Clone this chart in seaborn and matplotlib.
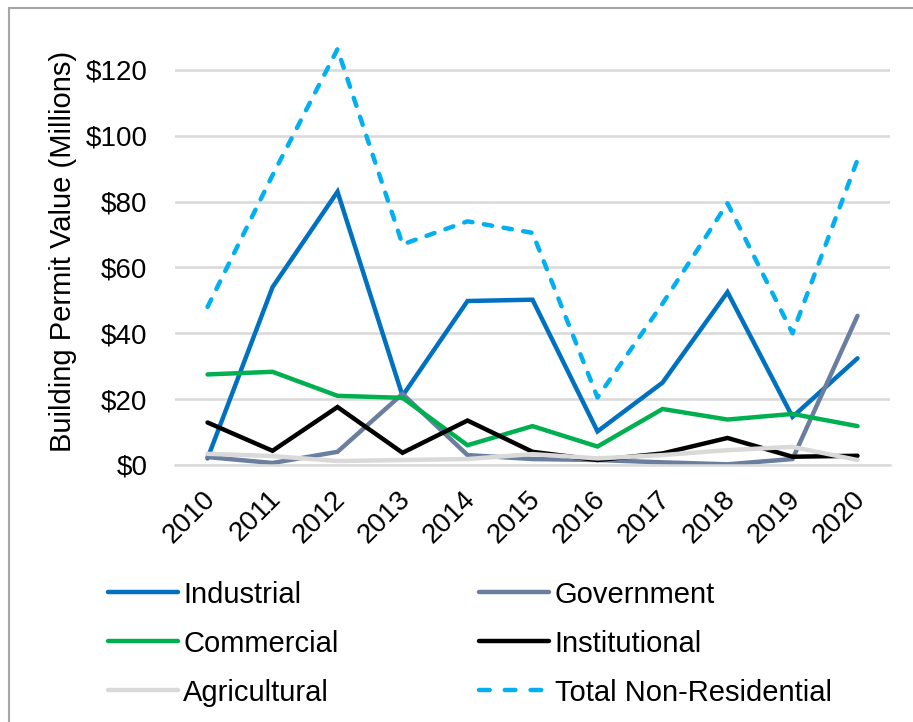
# Building permit values by non-residential category, 2010-2020
import numpy as np
import pandas as pd
import matplotlib
matplotlib.use('Agg')
import matplotlib.pyplot as plt
import matplotlib.transforms as mtransforms
from matplotlib.patches import Rectangle
import seaborn as sns

# === Data (millions of dollars) ===
years = [2010, 2011, 2012, 2013, 2014, 2015, 2016, 2017, 2018, 2019, 2020]
industrial = [2.0, 54.0, 83.0, 21.0, 49.8, 50.2, 10.2, 25.0, 52.5, 14.6, 32.4]
government = [2.4, 0.6, 4.0, 21.6, 3.0, 1.8, 1.5, 0.8, 0.2, 1.8, 45.3]
commercial = [27.5, 28.3, 21.0, 20.4, 6.0, 11.8, 5.6, 17.0, 13.8, 15.5, 11.8]
institutional = [12.9, 4.3, 17.6, 3.7, 13.5, 4.0, 1.5, 3.5, 8.2, 2.5, 2.8]
agricultural = [3.4, 2.7, 1.2, 1.5, 1.8, 3.3, 2.0, 3.0, 4.5, 5.5, 1.5]
total = [48.0, 88.0, 126.3, 67.0, 74.0, 70.5, 20.5, 49.0, 79.5, 40.0, 92.7]

series = ['Industrial', 'Government', 'Commercial', 'Institutional',
          'Agricultural', 'Total Non-Residential']
values = [industrial, government, commercial, institutional, agricultural, total]
colors = ['#0070C0', '#6A7FA0', '#00B050', '#000000', '#D9D9D9', '#00B0F0']

df = pd.DataFrame({
    'year': years * len(series),
    'value': np.concatenate(values),
    'series': np.repeat(series, len(years)),
})

# === Plot ===
sns.set_theme(style='white')
plt.rcParams['font.family'] = ['Liberation Sans', 'DejaVu Sans']

fig = plt.figure(figsize=(9.13, 7.22), dpi=100)
ax = fig.add_axes([0.1917, 0.356, 0.7831, 0.5928])

palette = dict(zip(series, colors))
dashes = {s: '' for s in series}
dashes['Total Non-Residential'] = (1.9, 2.6)

sns.lineplot(data=df, x='year', y='value', hue='series', style='series',
             palette=palette, dashes=dashes, hue_order=series,
             style_order=series, linewidth=3.2, ax=ax, legend=False)
for line in ax.get_lines():
    line.set_dash_capstyle('round')
    line.set_solid_capstyle('round')
    line.set_solid_joinstyle('miter')

ax.set_xlim(2009.5, 2020.5)
ax.set_ylim(0, 130)
ax.set_yticks(range(0, 121, 20))
ax.set_yticklabels([f'${v}' for v in range(0, 121, 20)])
ax.set_xticks(years)
ax.set_xticklabels([str(y) for y in years], rotation=45,
                   ha='right', rotation_mode='anchor')
ax.tick_params(axis='both', length=0, labelsize=20, labelcolor='black')
ax.tick_params(axis='x', pad=15)
ax.tick_params(axis='y', pad=20)
shift = mtransforms.ScaledTranslation(-0.05, 0, fig.dpi_scale_trans)
for lbl in ax.get_xticklabels():
    lbl.set_transform(lbl.get_transform() + shift)
ax.set_xlabel('')
ax.set_ylabel('Building Permit Value (Millions)', fontsize=21, labelpad=6,
              color='black')
ax.yaxis.grid(True, color='#D9D9D9', linewidth=1.8)
ax.set_axisbelow(True)
for side in ['top', 'right', 'left']:
    ax.spines[side].set_visible(False)
ax.spines['bottom'].set_color('#D9D9D9')
ax.spines['bottom'].set_linewidth(1.8)

# legend in two columns under the plot, filled row by row
order = [0, 2, 4, 1, 3, 5]
handles = [plt.Line2D([], [], color=c, lw=3.2,
                      ls=(0, (2.4, 3.4)) if s.startswith('Total') else '-',
                      dash_capstyle='round', solid_capstyle='round')
           for s, c in zip(series, colors)]
fig.legend([handles[i] for i in order], [series[i] for i in order],
           ncol=2, loc='upper left', bbox_to_anchor=(0.105, 0.212),
           frameon=False, fontsize=21, labelcolor='black',
           handlelength=2.4, handletextpad=0.2, columnspacing=4.8,
           labelspacing=0.72, borderaxespad=0)

# outer frame
fig.patches.append(Rectangle((0.0099, -0.1), 1.2, 1.089, transform=fig.transFigure,
                             fill=False, edgecolor='#A6A6A6', linewidth=1.5))

fig.savefig('out.png', dpi=100)
